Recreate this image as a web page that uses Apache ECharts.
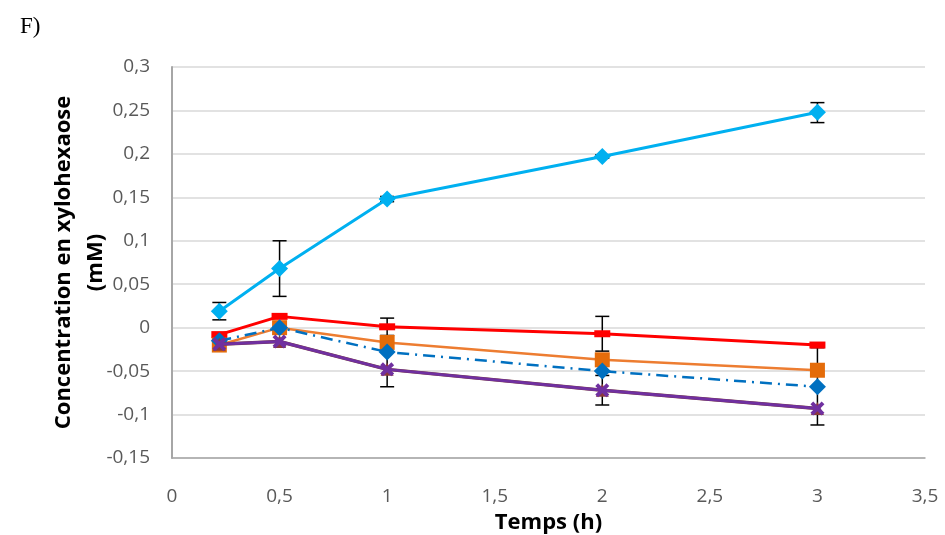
<!DOCTYPE html>
<html><head><meta charset="utf-8">
<script src="https://cdn.jsdelivr.net/npm/echarts@6/dist/echarts.min.js"></script>
<style>html,body{margin:0;padding:0;background:#fff}#c{width:945px;height:535px}</style>
</head><body><div id="c"></div>
<script>
const times = [0.22, 0.5, 1, 2, 3];
const cyanVals   = [0.019, 0.068, 0.148, 0.197, 0.248];
const redVals    = [-0.008, 0.013, 0.001, -0.007, -0.020];
const orangeVals = [-0.020, 0.000, -0.017, -0.037, -0.049];
const blueVals   = [-0.015, 0.000, -0.028, -0.050, -0.068];
const purpleVals = [-0.019, -0.016, -0.048, -0.072, -0.093];
// error bars: [x, low, high]
const errorBars = [
  [0.22, 0.009, 0.029], [0.5, 0.036, 0.100], [1, 0.145, 0.151], [2, 0.195, 0.199], [3, 0.236, 0.259],
  [1, -0.009, 0.011], [1, -0.068, -0.028],
  [2, -0.027, 0.013], [2, -0.089, -0.055],
  [3, -0.112, -0.023]
];
const xTicks = {min: 0, max: 3.5, step: 0.5};
const yTicks = {min: -0.15, max: 0.3, step: 0.05};

const pair = v => times.map((t, i) => [t, v[i]]);
const fmt = v => String(+v.toFixed(2)).replace('.', ',');
const font = '"Open Sans", Lato, sans-serif';
const xMark = 'path://M2,0 L5,3 L8,0 L10,2 L7,5 L10,8 L8,10 L5,7 L2,10 L0,8 L3,5 L0,2 Z';

const chart = echarts.init(document.getElementById('c'));
chart.setOption({
  animation: false,
  grid: {left: 172, right: 20, top: 67, bottom: 77, containLabel: false, outerBoundsMode: 'none'},
  graphic: [{type: 'text', left: 20, top: 15, style: {text: 'F)', font: '23px "Liberation Serif", "DejaVu Serif", serif', fill: '#000'}}],
  xAxis: {
    type: 'value', min: xTicks.min, max: xTicks.max, interval: xTicks.step,
    name: 'Temps (h)', nameLocation: 'middle', nameGap: 53, nameMoveOverlap: false,
    nameTextStyle: {fontFamily: font, fontWeight: 'bold', fontSize: 22, lineHeight: 24, color: '#000'},
    axisLine: {show: true, onZero: false, lineStyle: {color: '#A6A6A6', width: 1.5}}, axisTick: {show: false},
    axisLabel: {formatter: fmt, fontFamily: font, fontSize: 19, lineHeight: 20, color: '#595959', margin: 29},
    splitLine: {show: false}
  },
  yAxis: {
    type: 'value', min: yTicks.min, max: yTicks.max, interval: yTicks.step,
    name: 'Concentration en xylohexaose\n(mM)', nameLocation: 'middle', nameGap: 60, nameRotate: 90, nameMoveOverlap: false,
    nameTextStyle: {fontFamily: font, fontWeight: 'bold', fontSize: 22, color: '#000', lineHeight: 32, align: 'center'},
    axisLine: {show: true, onZero: false, lineStyle: {color: '#A6A6A6', width: 2}}, axisTick: {show: false},
    axisLabel: {formatter: fmt, fontFamily: font, fontSize: 19, color: '#595959', margin: 22},
    splitLine: {show: true, lineStyle: {color: '#D9D9D9', width: 1.5}}
  },
  series: [
    {type: 'custom', z: 1, data: errorBars, renderItem: (params, api) => {
      const x = api.value(0), lo = api.value(1), hi = api.value(2);
      const p1 = api.coord([x, lo]), p2 = api.coord([x, hi]);
      const w = 7, st = {stroke: '#000', lineWidth: 1.5};
      return {type: 'group', children: [
        {type: 'line', shape: {x1: p1[0], y1: p1[1], x2: p2[0], y2: p2[1]}, style: st},
        {type: 'line', shape: {x1: p1[0]-w, y1: p1[1], x2: p1[0]+w, y2: p1[1]}, style: st},
        {type: 'line', shape: {x1: p2[0]-w, y1: p2[1], x2: p2[0]+w, y2: p2[1]}, style: st}
      ]};
    }},
    {type: 'line', z: 3, data: pair(redVals), symbol: 'rect', symbolSize: [16, 7],
      lineStyle: {color: '#FF0000', width: 3}, itemStyle: {color: '#FF0000'}},
    {type: 'line', z: 4, data: pair(orangeVals), symbol: 'rect', symbolSize: 15,
      lineStyle: {color: '#ED7D31', width: 2.5}, itemStyle: {color: '#E46C0A'}},
    {type: 'line', z: 5, data: pair(blueVals), symbol: 'diamond', symbolSize: 17,
      lineStyle: {color: '#0070C0', width: 2.5, type: [12, 6, 2, 6]}, itemStyle: {color: '#0070C0'}},
    {type: 'line', z: 6, data: pair(purpleVals), symbol: 'triangle', symbolSize: 13,
      lineStyle: {color: '#7B3F3F', width: 3.5}, itemStyle: {color: '#8B3A3A'}},
    {type: 'line', z: 7, data: pair(purpleVals), symbol: xMark, symbolSize: 14,
      lineStyle: {color: '#7030A0', width: 3}, itemStyle: {color: '#7030A0'}},
    {type: 'line', z: 8, data: pair(cyanVals), symbol: 'diamond', symbolSize: 17,
      lineStyle: {color: '#00B0F0', width: 3}, itemStyle: {color: '#00B0F0'}}
  ]
});
</script></body></html>
